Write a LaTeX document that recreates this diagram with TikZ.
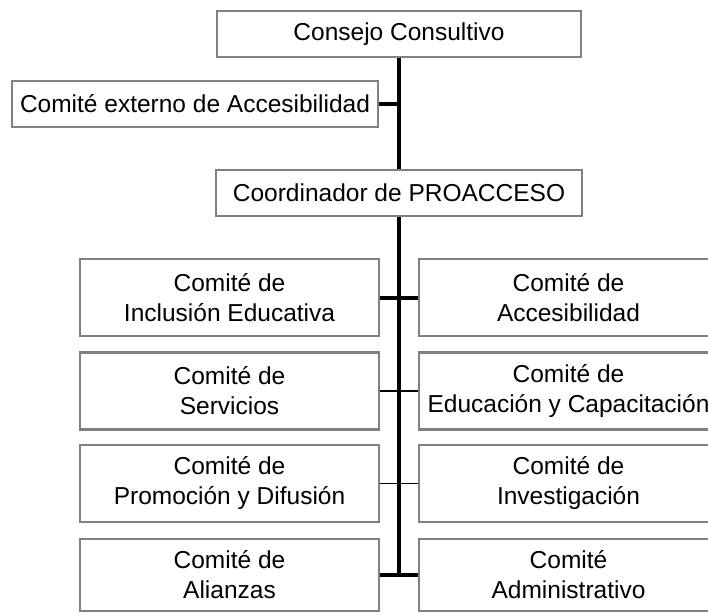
\documentclass[tikz,border=0pt]{standalone}
\usepackage{fontspec}
\setmainfont{Liberation Sans}
\usetikzlibrary{positioning}

\begin{document}
\begin{tikzpicture}[x=1pt,y=-1pt,font=\fontsize{24.5}{30}\selectfont,
	box/.style={draw=black!50,line width=2.5pt,fill=white,align=center,inner sep=0pt,minimum height=46pt},
	unit/.style={box,minimum width=299pt,minimum height=77pt},
	thick link/.style={line width=4pt},
	thin link/.style={line width=1.5pt}]

	\useasboundingbox (0,0) rectangle (708,614);
	\clip (0,0) rectangle (708,614);

	\node [box,minimum width=364pt] at (399,34)	(cons)		{Consejo Consultivo};
	\node [box,minimum width=366pt] at (195,104)	(ext)		{Comité externo de Accesibilidad};
	\node [box,minimum width=366pt] at (399,193)	(coord)		{Coordinador de PROACCESO};

	\node [unit] at (229.5,297.5)	(incl)		{Comité de\\Inclusión Educativa};
	\node [unit] at (568.5,297.5)	(acces)		{Comité de\\Accesibilidad};
	\node [unit] at (229.5,391)	(serv)		{Comité de\\Servicios};
	\node [unit] at (568.5,391)	(educ)		{Comité de\\Educación y Capacitación};
	\node [unit] at (229.5,483.5)	(prom)		{Comité de\\Promoción y Difusión};
	\node [unit] at (568.5,483.5)	(inv)		{Comité de\\Investigación};
	\node [unit,minimum height=72pt] at (229.5,575)	(alian)		{Comité de\\Alianzas};
	\node [unit,minimum height=72pt] at (568.5,575)	(admin)		{Comité\\Administrativo};

	\path [thick link]	(cons) edge (coord)
				(coord) edge (coord.south |- alian.east)
				(ext) edge (ext.east -| coord.south)
				(incl) edge (acces)
				(alian) edge (admin);
	\path [thin link]	(serv) edge (educ)
				(prom) edge (inv);

\end{tikzpicture}
\end{document}
